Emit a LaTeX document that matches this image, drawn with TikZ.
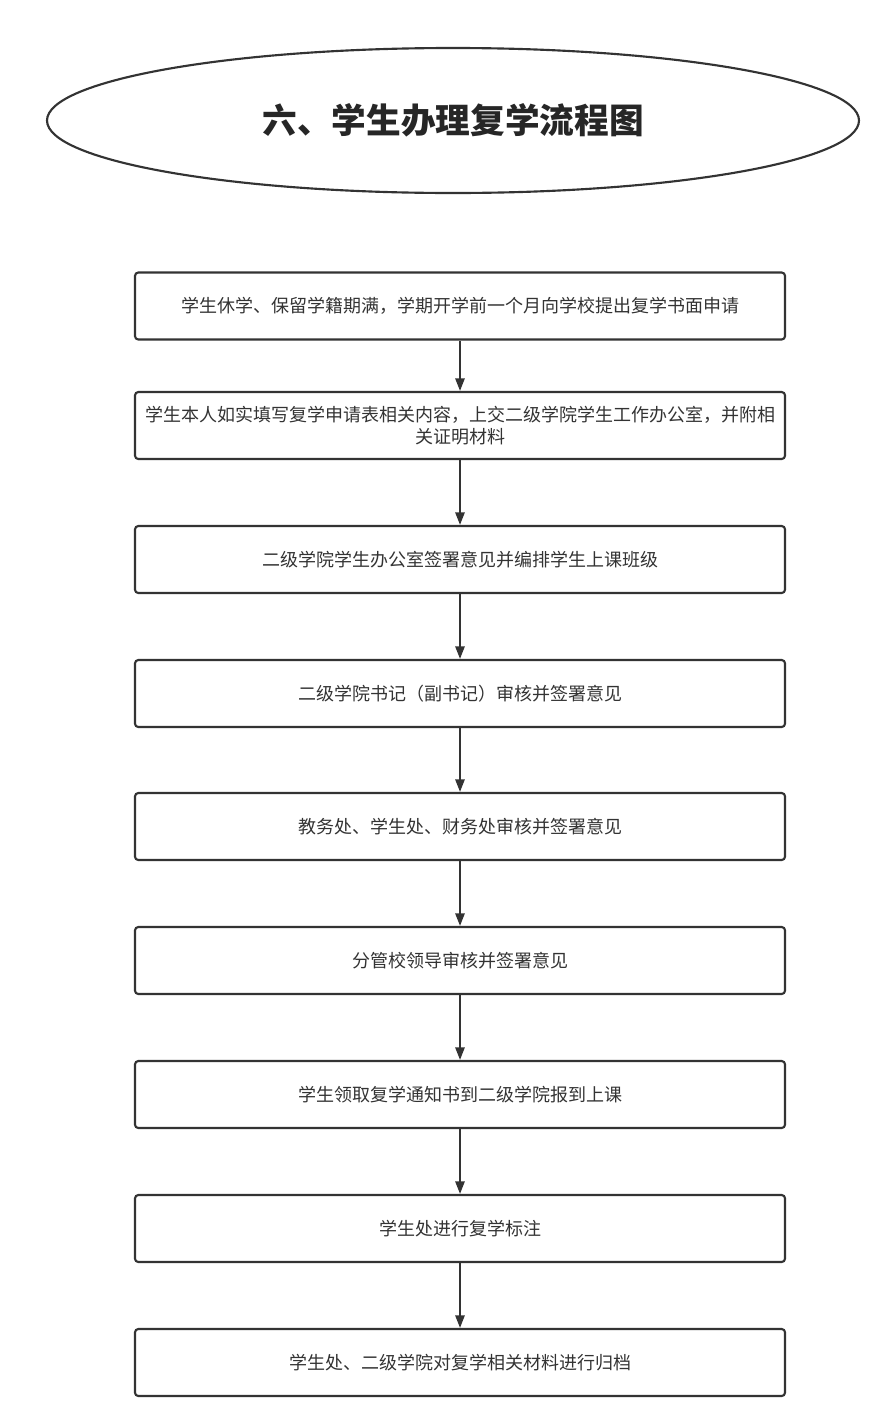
\documentclass[tikz,border=0pt]{standalone}
\usepackage{fontspec}
\setmainfont{Noto Sans CJK SC}
\usetikzlibrary{arrows.meta,shapes.geometric}
\definecolor{ln}{HTML}{333333}
\tikzset{
  stepbox/.style={draw=ln, line width=1.6pt, rounded corners=2.5pt, minimum width=650*0.75pt, minimum height=67*0.75pt, inner sep=0pt, align=center, font=\fontsize{13.5pt}{17pt}\selectfont, text=ln},
  flow/.style={draw=ln, line width=1.5pt, -{Triangle[length=9.5pt,width=7pt]}},
}
\begin{document}
\begin{tikzpicture}[x=0.75pt,y=-0.75pt]
\useasboundingbox (0,0) rectangle (891,1428);
\node[draw=ln, line width=1.6pt, ellipse, minimum width=812*0.75pt, minimum height=145*0.75pt, inner sep=0pt, text=black!85, font=\fontsize{26pt}{30pt}\selectfont\bfseries] (title) at (453,120.5) {六、学生办理复学流程图};
\node[stepbox] (b1) at (460,306) {学生休学、保留学籍期满，学期开学前一个月向学校提出复学书面申请};
\node[stepbox] (b2) at (460,425.5) {学生本人如实填写复学申请表相关内容，上交二级学院学生工作办公室，并附相\\关证明材料};
\node[stepbox] (b3) at (460,559.5) {二级学院学生办公室签署意见并编排学生上课班级};
\node[stepbox] (b4) at (460,693.5) {二级学院书记（副书记）审核并签署意见};
\node[stepbox] (b5) at (460,826.5) {教务处、学生处、财务处审核并签署意见};
\node[stepbox] (b6) at (460,960.5) {分管校领导审核并签署意见};
\node[stepbox] (b7) at (460,1094.5) {学生领取复学通知书到二级学院报到上课};
\node[stepbox] (b8) at (460,1228.5) {学生处进行复学标注};
\node[stepbox] (b9) at (460,1362.5) {学生处、二级学院对复学相关材料进行归档};
\foreach \a/\b in {b1/b2,b2/b3,b3/b4,b4/b5,b5/b6,b6/b7,b7/b8,b8/b9}
  \draw[flow] (\a.south) -- (\b.north);
\end{tikzpicture}
\end{document}
